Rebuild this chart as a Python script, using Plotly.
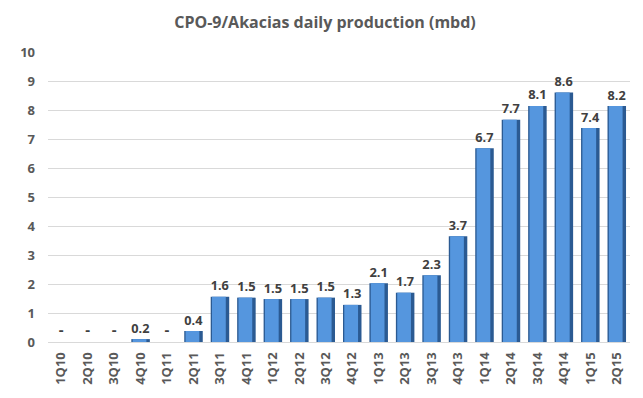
import plotly.graph_objects as go

quarters = ["1Q10", "2Q10", "3Q10", "4Q10", "1Q11", "2Q11", "3Q11", "4Q11", "1Q12", "2Q12", "3Q12",
            "4Q12", "1Q13", "2Q13", "3Q13", "4Q13", "1Q14", "2Q14", "3Q14", "4Q14", "1Q15", "2Q15"]
production = [0, 0, 0, 0.1, 0, 0.38, 1.56, 1.53, 1.48, 1.48, 1.53,
              1.28, 2.03, 1.7, 2.3, 3.65, 6.68, 7.66, 8.14, 8.6, 7.38, 8.14]
labels = ["-", "-", "-", "0.2", "-", "0.4", "1.6", "1.5", "1.5", "1.5", "1.5",
          "1.3", "2.1", "1.7", "2.3", "3.7", "6.7", "7.7", "8.1", "8.6", "7.4", "8.2"]

fig = go.Figure()
fig.add_trace(go.Bar(
    x=quarters, y=production, width=0.7, offset=-0.35,
    marker=dict(color="#2b5a92", line=dict(width=0)),
    text=labels, textposition="outside", cliponaxis=False,
    textfont=dict(family="Open Sans", size=15, color="#404040", weight="bold"),
    hoverinfo="x+y",
))
fig.add_trace(go.Bar(
    x=quarters, y=production, width=0.52, offset=-0.3,
    marker=dict(color="#5596de", line=dict(width=0)),
    hoverinfo="skip",
))

fig.update_layout(
    width=643, height=398,
    barmode="overlay",
    showlegend=False,
    plot_bgcolor="white", paper_bgcolor="white",
    margin=dict(l=32, r=21, t=44, b=64),
    title=dict(text="<b>CPO-9/Akacias daily production (mbd)</b>", x=0.493, xanchor="center",
               y=0.965, yanchor="middle",
               font=dict(family="Open Sans", size=16, color="#595959")),
    xaxis=dict(tickangle=-90, tickfont=dict(family="Open Sans", size=13, color="#595959", weight="bold"),
               showline=True, linecolor="#d9d9d9", ticks="", showgrid=False, ticklabelstandoff=4),
    yaxis=dict(range=[0, 10], dtick=1, showgrid=True, gridcolor="#d9d9d9", zeroline=False,
               tickfont=dict(family="Open Sans", size=13, color="#595959", weight="bold"), ticks="",
               ticklabelstandoff=12),
    font=dict(family="Open Sans"),
)
fig.write_html("out.html")
